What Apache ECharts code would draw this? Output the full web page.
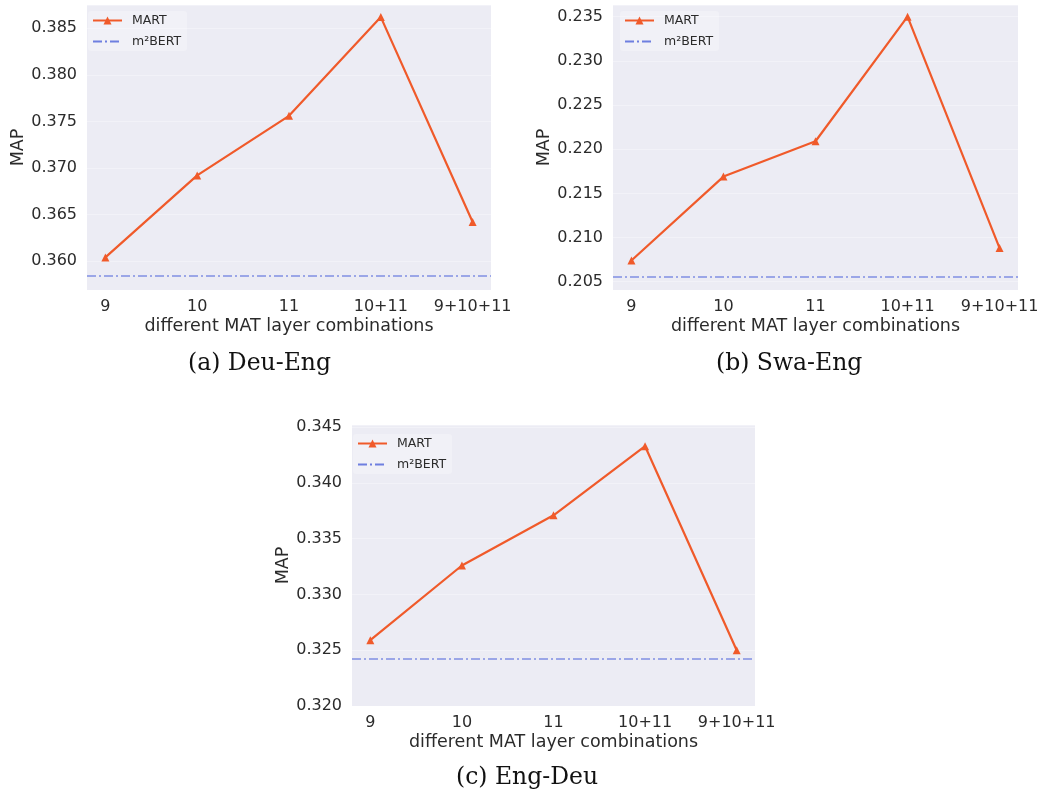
<!DOCTYPE html>
<html>
<head>
<meta charset="utf-8">
<script src="https://cdn.jsdelivr.net/npm/echarts@6/dist/echarts.min.js"></script>
<style>
html,body{margin:0;padding:0;background:#fff;}
#c{width:1044px;height:794px;}
</style>
</head>
<body>
<div id="c"></div>
<script>
const categories = ['9', '10', '11', '10+11', '9+10+11'];
const martDeuEng = [0.3604, 0.3692, 0.3756, 0.3862, 0.3642];
const m2bertDeuEng = 0.3584;
const martSwaEng = [0.2074, 0.2169, 0.2209, 0.2350, 0.2088];
const m2bertSwaEng = 0.2056;
const martEngDeu = [0.3259, 0.3326, 0.3371, 0.3433, 0.3250];
const m2bertEngDeu = 0.3242;
const ticksDeuEng = [0.360, 0.365, 0.370, 0.375, 0.380, 0.385];
const ticksSwaEng = [0.205, 0.210, 0.215, 0.220, 0.225, 0.230, 0.235];
const ticksEngDeu = [0.320, 0.325, 0.330, 0.335, 0.340, 0.345];
const captions = ['(a) Deu-Eng', '(b) Swa-Eng', '(c) Eng-Deu'];

const panels = [
  {grid:{left:87, top:5, width:404, height:285}, mart:martDeuEng, base:m2bertDeuEng, ticks:ticksDeuEng, ymin:0.3569, ymax:0.3875, legend:{left:88, top:11}, yGap:57},
  {grid:{left:613, top:5, width:405, height:285}, mart:martSwaEng, base:m2bertSwaEng, ticks:ticksSwaEng, ymin:0.20406, ymax:0.23632, legend:{left:620, top:11}, yGap:55},
  {grid:{left:352, top:425, width:403, height:281}, mart:martEngDeu, base:m2bertEngDeu, ticks:ticksEngDeu, ymin:0.32, ymax:0.3452, legend:{left:353, top:434}, yGap:60}
];

const FONT = 'DejaVu Sans';
const TXT = '#2b2b2b';
const MART_COLOR = '#F05A2A';
const BASE_COLOR = '#6E7FE0';
const DASHDOT = [9, 3, 2, 3];

const grids = [], xAxes = [], yAxes = [], series = [], legends = [];
panels.forEach((p, i) => {
  grids.push(Object.assign({show:true, backgroundColor:'#ECECF4', borderWidth:0}, p.grid));
  xAxes.push({
    type:'value', gridIndex:i, min:-0.2, max:4.2,
    name:'different MAT layer combinations', nameLocation:'middle', nameGap:27,
    nameTextStyle:{fontFamily:FONT, fontSize:17.5, color:TXT},
    axisLine:{show:false}, axisTick:{show:false}, splitLine:{show:false},
    axisLabel:{customValues:[0,1,2,3,4], formatter:v => categories[Math.round(v)], fontFamily:FONT, fontSize:16, color:TXT, margin:9}
  });
  yAxes.push({
    type:'value', gridIndex:i, min:p.ymin, max:p.ymax,
    name:'MAP', nameLocation:'middle', nameGap:p.yGap, nameRotate:90,
    nameTextStyle:{fontFamily:FONT, fontSize:17.5, color:TXT},
    axisLine:{show:false}, axisTick:{show:false},
    splitLine:{show:true, lineStyle:{color:'rgba(255,255,255,0.35)', width:1}, customValues:p.ticks},
    axisLabel:{customValues:p.ticks, formatter:v => v.toFixed(3), fontFamily:FONT, fontSize:16, color:TXT, margin:10}
  });
  series.push({
    name:'MART', type:'line', xAxisIndex:i, yAxisIndex:i,
    data:p.mart.map((v, k) => [k, v]),
    symbol:'triangle', symbolSize:8,
    lineStyle:{color:MART_COLOR, width:2.2},
    itemStyle:{color:MART_COLOR},
    z:3,
    markLine:{silent:true, symbol:'none', label:{show:false}, precision:6,
      lineStyle:{color:BASE_COLOR, width:1.5, type:DASHDOT, opacity:0.85},
      data:[{yAxis:p.base}]}
  });
  series.push({
    name:'m²BERT', type:'line', xAxisIndex:i, yAxisIndex:i,
    data:[], symbol:'none',
    lineStyle:{color:BASE_COLOR, width:1.5, type:DASHDOT},
    itemStyle:{color:BASE_COLOR}
  });
  legends.push({
    left:p.legend.left, top:p.legend.top, orient:'vertical', itemGap:8,
    itemWidth:29, itemHeight:10, padding:[3,6,3,4],
    backgroundColor:'rgba(255,255,255,0.25)', borderRadius:3,
    textStyle:{fontFamily:FONT, fontSize:12.5, color:TXT, padding:[0,0,0,5]},
    data:['MART', {name:'m²BERT', itemStyle:{color:'rgba(0,0,0,0)', borderWidth:0, opacity:0}}],
    selectedMode:false
  });
});

const chart = echarts.init(document.getElementById('c'), null, {renderer:'canvas'});
chart.setOption({
  animation:false,
  grid:grids, xAxis:xAxes, yAxis:yAxes, series:series, legend:legends,
  graphic:[
    {type:'text', left:188, top:352, style:{text:captions[0], font:'23.5px "DejaVu Serif"', fill:'#111'}},
    {type:'text', left:716, top:352, style:{text:captions[1], font:'23.5px "DejaVu Serif"', fill:'#111'}},
    {type:'text', left:456, top:766, style:{text:captions[2], font:'23.5px "DejaVu Serif"', fill:'#111'}}
  ]
});
</script>
</body>
</html>
